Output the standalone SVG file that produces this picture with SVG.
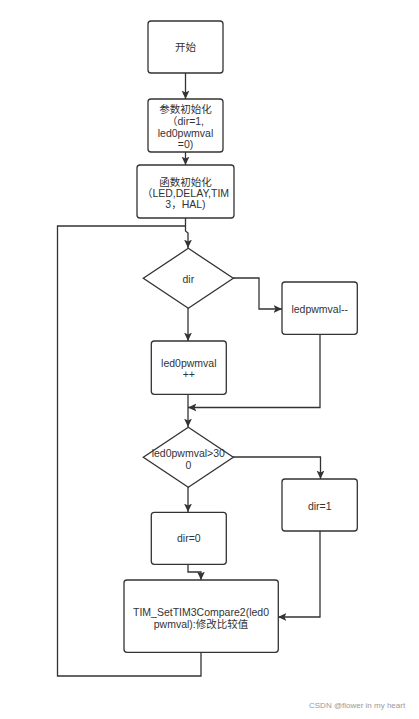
<svg xmlns="http://www.w3.org/2000/svg" width="419" height="719" viewBox="0 0 419 719">
<defs>
<style>
.box{fill:#fff;stroke:#333;stroke-width:1.3}
.t{font-family:"Liberation Sans","Noto Sans CJK SC",sans-serif;font-size:10.5px;fill:#333;text-anchor:middle;dominant-baseline:central}
.c{fill:none;stroke:#333;stroke-width:1.3}
.wm{font-family:"Liberation Sans",sans-serif;font-size:8px;fill:#999}
</style>
<marker id="ar" markerUnits="userSpaceOnUse" markerWidth="9" markerHeight="9" viewBox="0 0 8 8" refX="7.5" refY="4" orient="auto">
<path d="M0,0.5 L7.5,4 L0,7.5 L1.8,4 Z" fill="#333"/>
</marker>
</defs>
<rect width="419" height="719" fill="#fff"/>
<g id="connectors">
<path class="c" d="M185.5 73 V99" marker-end="url(#ar)"/>
<path class="c" d="M185.5 152 V165" marker-end="url(#ar)"/>
<path class="c" d="M185.5 218 V231 L188 233 V248" marker-end="url(#ar)"/>
<path class="c" d="M233 278 H259 V309 H282" marker-end="url(#ar)"/>
<path class="c" d="M188 308 V341" marker-end="url(#ar)"/>
<path class="c" d="M320 334 V407.5 H188" marker-end="url(#ar)"/>
<path class="c" d="M188 394 V427" marker-end="url(#ar)"/>
<path class="c" d="M233 457 H320.5 V479" marker-end="url(#ar)"/>
<path class="c" d="M188 487 V512" marker-end="url(#ar)"/>
<path class="c" d="M188 564 V572 H201 V580" marker-end="url(#ar)"/>
<path class="c" d="M320 531 V617 H278" marker-end="url(#ar)"/>
<path class="c" d="M201 652 V676 H57.5 V226 H186"/>
</g>
<g id="start">
<rect class="box" x="148" y="21" width="75" height="52" rx="3"/>
<text class="t" x="185.5" y="47">开始</text>
</g>
<g id="param-init">
<rect class="box" x="148" y="99" width="75" height="53" rx="3"/>
<text class="t" x="185.5" y="108.5">参数初始化</text>
<text class="t" x="185.5" y="120.5">（dir=1,</text>
<text class="t" x="185.5" y="132.5">led0pwmval</text>
<text class="t" x="185.5" y="144">=0)</text>
</g>
<g id="func-init">
<rect class="box" x="137" y="165" width="97" height="53" rx="3"/>
<text class="t" x="185.5" y="181.5">函数初始化</text>
<text class="t" x="185.5" y="193">（LED,DELAY,TIM</text>
<text class="t" x="185.5" y="204">3，HAL)</text>
</g>
<g id="dir-decision">
<path class="box" d="M188.3 248.3 L233.3 278.3 L188.3 308.3 L143.3 278.3 Z"/>
<text class="t" x="188.3" y="279">dir</text>
</g>
<g id="dec">
<rect class="box" x="282" y="282" width="75.3" height="52.3" rx="3"/>
<text class="t" x="319.7" y="309">ledpwmval--</text>
</g>
<g id="inc">
<rect class="box" x="151.3" y="341" width="75" height="53.3" rx="3"/>
<text class="t" x="188.8" y="362.5">led0pwmval</text>
<text class="t" x="188.8" y="374">++</text>
</g>
<g id="cmp-decision">
<path class="box" d="M188.3 427.3 L233.3 457.3 L188.3 487.3 L143.3 457.3 Z"/>
<text class="t" x="188.3" y="453">led0pwmval&gt;30</text>
<text class="t" x="188.3" y="464.5">0</text>
</g>
<g id="dir1">
<rect class="box" x="282" y="479" width="75.3" height="52" rx="3"/>
<text class="t" x="319.7" y="505.5">dir=1</text>
</g>
<g id="dir0">
<rect class="box" x="151.3" y="512.3" width="75" height="52" rx="3"/>
<text class="t" x="188.8" y="538">dir=0</text>
</g>
<g id="set-compare">
<rect class="box" x="124" y="580" width="154.3" height="72.3" rx="3"/>
<text class="t" x="201" y="611.5">TIM_SetTIM3Compare2(led0</text>
<text class="t" x="201" y="623.5">pwmval):修改比较值</text>
</g>
<text class="wm" x="309" y="708">CSDN @flower in my heart</text>
</svg>
